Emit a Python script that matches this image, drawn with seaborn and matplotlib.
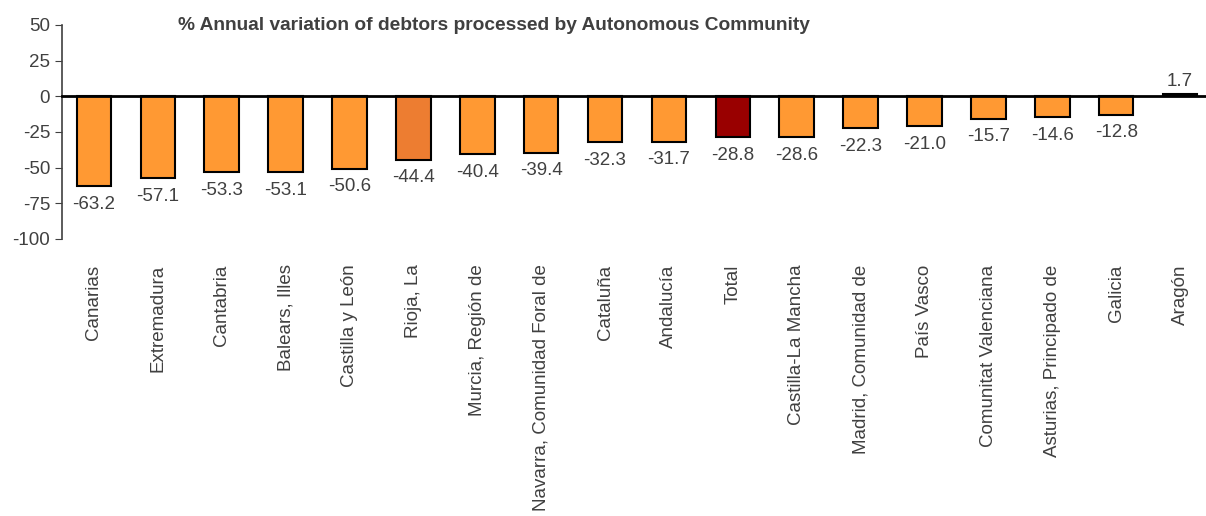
import numpy as np
import pandas as pd
import matplotlib
matplotlib.use("Agg")
import matplotlib.pyplot as plt
import seaborn as sns

regions = ["Canarias", "Extremadura", "Cantabria", "Balears, Illes", "Castilla y León",
           "Rioja, La", "Murcia, Región de", "Navarra, Comunidad Foral de", "Cataluña",
           "Andalucía", "Total", "Castilla-La Mancha", "Madrid, Comunidad de", "País Vasco",
           "Comunitat Valenciana", "Asturias, Principado de", "Galicia", "Aragón"]
variation = [-63.2, -57.1, -53.3, -53.1, -50.6, -44.4, -40.4, -39.4, -32.3,
             -31.7, -28.8, -28.6, -22.3, -21.0, -15.7, -14.6, -12.8, 1.7]
bar_colors = ["#FF9933"] * 5 + ["#ED7D31"] + ["#FF9933"] * 4 + ["#990000"] + ["#FF9933"] * 7

TXT = "#404040"
FS = 13.5
sns.set_style("white")
plt.rcParams["font.family"] = ["Liberation Sans", "DejaVu Sans"]
plt.rcParams["axes.unicode_minus"] = False

df = pd.DataFrame({"region": regions, "value": variation})

fig = plt.figure(figsize=(12.06, 5.16), dpi=100)
ax = fig.add_axes([62 / 1206, 1 - 239 / 516, 1150 / 1206, 214 / 516])

sns.barplot(data=df, x="region", y="value", hue="region", palette=bar_colors,
            saturation=1, legend=False, width=0.54, edgecolor="black", linewidth=1.5, ax=ax)

for i, v in enumerate(variation):
    if v < 0:
        ax.annotate(f"{v:.1f}", (i, v), xytext=(0, -7), textcoords="offset points",
                    ha="center", va="top", fontsize=FS, color=TXT)
    else:
        ax.annotate(f"{v:.1f}", (i, v), xytext=(0, 3), textcoords="offset points",
                    ha="center", va="bottom", fontsize=FS, color=TXT)

ax.set_ylim(-100, 50)
ax.set_yticks(np.arange(-100, 51, 25))
ax.set_xlim(-0.5, len(regions) - 0.5)
ax.set_xlabel("")
ax.set_ylabel("")

for s in ["top", "right"]:
    ax.spines[s].set_visible(False)
ax.spines["left"].set_color(TXT)
ax.spines["left"].set_linewidth(1.2)
ax.spines["bottom"].set_position(("data", 0))
ax.spines["bottom"].set_color("black")
ax.spines["bottom"].set_linewidth(2)

ax.set_xticks(np.arange(len(regions)))
ax.set_xticklabels(regions, rotation=90)
ax.set_xticks(np.arange(len(regions) + 1) - 0.5, minor=True)
ax.tick_params(axis="x", which="major", length=0, pad=121, labelsize=FS, labelcolor=TXT)
ax.tick_params(axis="x", which="minor", length=4, direction="out", color=TXT, width=1)
ax.tick_params(axis="y", length=5, direction="out", color=TXT, labelsize=FS, labelcolor=TXT,
               left=True)

fig.text(178 / 1206, 1 - 25 / 516, "% Annual variation of debtors processed by Autonomous Community",
         ha="left", va="center", fontsize=13.8, fontweight="bold", color=TXT)

fig.savefig("out.png", dpi=100)
